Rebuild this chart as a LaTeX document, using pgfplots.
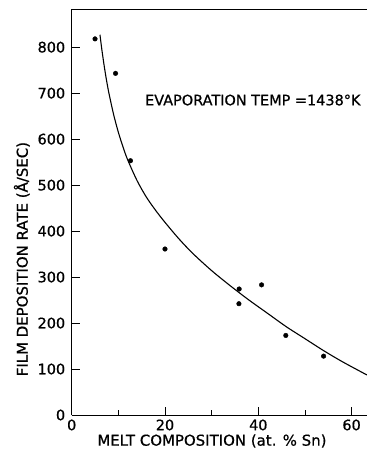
\documentclass[border=0pt]{standalone}
\usepackage{fontspec}
\setmainfont{DejaVu Sans}[UprightFeatures={FakeBold=0.7}]
\usepackage{pgfplots}
\pgfplotsset{compat=1.18}
\begin{document}
\begin{tikzpicture}
\begin{axis}[
  scale only axis,
  width=295.3bp, height=406bp,
  xmin=0, xmax=63.3, ymin=0, ymax=883,
  axis lines=left,
  axis line style={-, line width=0.8pt},
  tick align=inside,
  tick pos=left,
  major tick length=8bp,
  minor tick length=5bp,
  tick style={black, line width=0.7pt},
  xtick={0,20,40,60},
  minor xtick={10,30,50},
  ytick={0,100,...,800},
  /pgf/number format/assume math mode=true,
  ticklabel style={font=\fontsize{14.5}{16}\selectfont},
  yticklabel style={xshift=-3bp},
  xticklabel style={yshift=-1bp},
  xlabel={MELT COMPOSITION (at. \% Sn)},
  ylabel={FILM DEPOSITION RATE (Å/SEC)},
  label style={font=\fontsize{15}{17}\selectfont},
  xlabel style={at={(axis description cs:0.475,-0.064)}, anchor=center},
  ylabel style={at={(axis description cs:-0.169,0.384)}, anchor=center, rotate=0},
  clip=false,
]
\addplot[only marks, mark=*, mark size=2.3bp, black] coordinates {
  (5.0,818) (9.4,743) (12.6,553) (20.0,361) (35.9,274) (35.85,242)
  (40.7,283) (45.9,173) (54.0,128)
};
\addplot[smooth, black, line width=1.1pt] coordinates {
  (6.06,827) (6.5,792) (7,757) (7.5,726) (8,699) (9,653) (10,615)
  (11,583) (12,555) (14,510) (16,474) (18,445) (20,419) (23,383)
  (26,351) (30,314) (34,281) (38,250) (42,221) (46,192) (50,166)
  (54,140) (58,116) (63.3,87)
};
\node[anchor=west, font=\fontsize{14.5}{16}\selectfont, inner sep=0pt] at (axis cs:15.7,685) {EVAPORATION TEMP =1438°K};
\draw[line width=0.8pt] (rel axis cs:0,1) -- (rel axis cs:1,1);
\coordinate (bl) at (rel axis cs:-0.2428,-0.0961);
\coordinate (tr) at (rel axis cs:1,1.0222);
\end{axis}
\pgfresetboundingbox
\path (bl) rectangle (tr);
\end{tikzpicture}
\end{document}
